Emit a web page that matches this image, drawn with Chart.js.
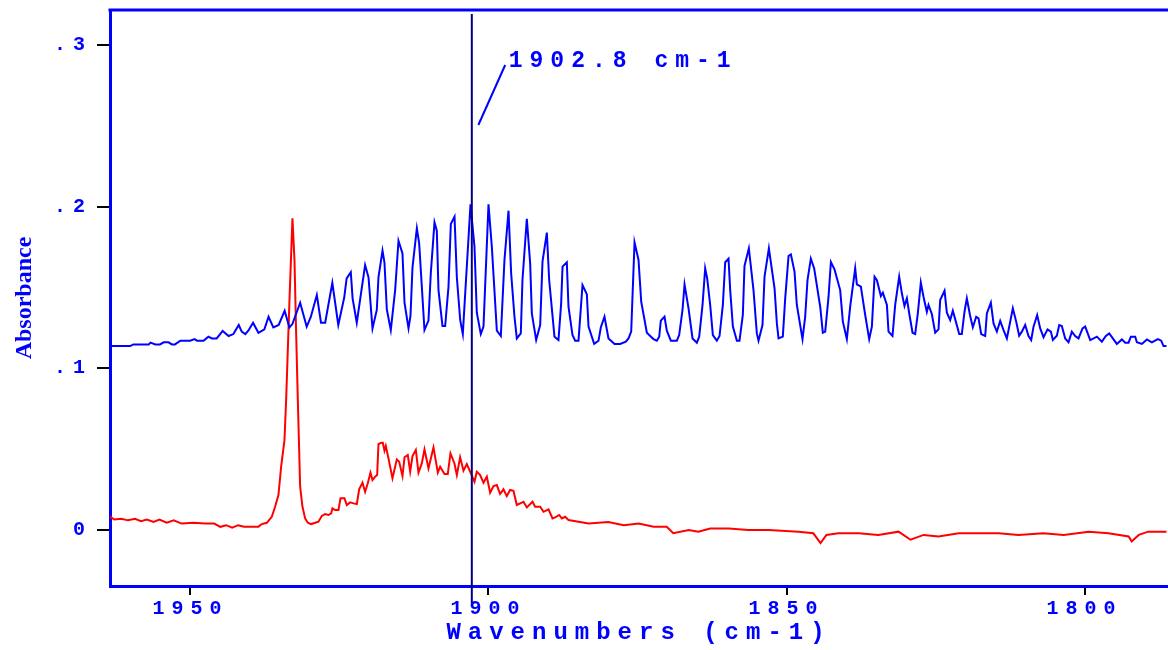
<!DOCTYPE html>
<html>
<head>
<meta charset="utf-8">
<script src="https://cdn.jsdelivr.net/npm/chart.js@4.4.0/dist/chart.umd.min.js"></script>
<style>
  html, body { margin: 0; padding: 0; background: #fff; }
</style>
</head>
<body>
<canvas id="spectrum" width="1168" height="650"></canvas>
<script>
// blue trace (wavenumber, absorbance)
var blueWn = [
  1963.76, 1960.1, 1959.6, 1957.0, 1956.7, 1955.9, 1955.1, 1954.5, 1953.7, 1953.1, 1952.6, 1951.7,
  1950.05, 1949.3, 1948.9, 1947.8, 1947.0, 1946.4, 1945.6, 1944.6, 1943.6, 1942.8, 1941.9, 1941.4,
  1940.8, 1940.3, 1939.5, 1938.6, 1937.6, 1936.9, 1936.1, 1935.2, 1934.2, 1933.4, 1932.9, 1931.6,
  1930.5, 1929.8, 1928.8, 1928.1, 1927.4, 1926.2, 1925.2, 1924.2, 1923.8, 1923.1, 1922.8, 1922.1,
  1920.7, 1920.13, 1919.46, 1918.74, 1918.46, 1917.78, 1917.45, 1917.06, 1916.39, 1915.66, 1915.10,
  1914.43, 1914.09, 1913.42, 1913.09, 1912.75, 1912.02, 1911.63, 1910.74, 1910.07, 1909.68, 1909.06,
  1908.67, 1908.39, 1907.72, 1907.27, 1906.71, 1906.32, 1905.70, 1905.31, 1904.75, 1904.31, 1903.02,
  1902.35, 1901.96, 1901.29, 1900.84, 1900.00, 1899.44, 1898.60, 1897.93, 1897.32, 1896.64, 1896.20,
  1895.64, 1895.25, 1894.58, 1894.30, 1893.57, 1893.01, 1892.73, 1892.00, 1891.33, 1890.94, 1890.21,
  1889.82, 1888.93, 1888.26, 1887.81, 1887.58, 1886.86, 1886.58, 1885.91, 1885.46, 1884.90, 1884.23,
  1883.50, 1883.22, 1882.27, 1881.54, 1881.15, 1880.54, 1879.87, 1878.86, 1877.91, 1876.96, 1876.51,
  1876.06, 1875.50, 1874.83, 1874.38, 1873.43, 1872.87, 1872.32, 1871.76, 1871.36, 1871.09, 1870.47,
  1870.08, 1869.41, 1868.40, 1868.01, 1867.45, 1867.11, 1866.44, 1865.77, 1865.04, 1864.65, 1864.09,
  1863.65, 1863.31, 1862.81, 1862.36, 1861.69, 1861.24, 1860.68, 1860.29, 1859.73, 1859.45, 1859.00,
  1858.33, 1857.89, 1857.33, 1857.05, 1856.32, 1855.54, 1854.98, 1854.70, 1854.03, 1853.69, 1852.96,
  1852.01, 1851.62, 1851.34, 1850.62, 1850.22, 1849.66, 1849.27, 1848.66, 1848.27, 1847.32, 1846.87,
  1846.48, 1845.92, 1845.36, 1844.35, 1843.91, 1843.51, 1842.95, 1842.56, 1841.95, 1841.00, 1840.55,
  1839.88, 1839.32, 1838.48, 1838.20, 1837.53, 1836.80, 1836.13, 1835.68, 1835.23, 1834.84, 1834.17,
  1833.84, 1833.16, 1832.89, 1832.22, 1831.77, 1831.10, 1830.65, 1830.21, 1829.81, 1829.37, 1828.86,
  1828.42, 1827.97, 1827.47, 1827.02, 1826.46, 1826.18, 1825.62, 1825.06, 1824.50, 1824.22, 1823.49,
  1823.10, 1822.54, 1822.10, 1821.59, 1821.03, 1820.59, 1820.14, 1819.75, 1819.19, 1818.74, 1818.18,
  1817.79, 1817.34, 1816.67, 1816.39, 1815.72, 1815.27, 1814.71, 1814.15, 1813.59, 1813.03, 1812.03,
  1811.47, 1810.97, 1810.52, 1809.96, 1809.40, 1808.95, 1808.56, 1807.95, 1807.44, 1806.88, 1806.21,
  1805.65, 1805.32, 1804.65, 1804.25, 1803.81, 1803.25, 1802.69, 1802.13, 1801.57, 1801.01, 1800.34,
  1799.89, 1799.05, 1797.93, 1797.10, 1796.42, 1795.86, 1794.58, 1793.74, 1793.18, 1792.62, 1792.23,
  1791.50, 1791.22, 1790.38, 1789.54, 1788.71, 1787.70, 1787.14, 1786.75, 1786.25
];
var blueAbs = [
  0.1138, 0.1138, 0.1148, 0.1148, 0.1159, 0.1148, 0.1148, 0.1161, 0.1161, 0.1148, 0.1148, 0.1171,
  0.1171, 0.1181, 0.1171, 0.1171, 0.1196, 0.1185, 0.1185, 0.1231, 0.1200, 0.1212, 0.1268, 0.1227,
  0.1212, 0.1233, 0.1282, 0.1220, 0.1241, 0.1319, 0.1253, 0.1268, 0.1356, 0.1253, 0.1274, 0.1406,
  0.1257, 0.1319, 0.1453, 0.1282, 0.1282, 0.1529, 0.1268, 0.1439, 0.1556, 0.1594, 0.1433, 0.1282,
  0.1639, 0.1563, 0.1247, 0.1361, 0.1563, 0.1728, 0.1653, 0.1365, 0.1237, 0.1484, 0.1789,
  0.1711, 0.1406, 0.1247, 0.1324, 0.1625, 0.1866, 0.1773, 0.1237, 0.1295, 0.1588, 0.1903,
  0.1851, 0.1484, 0.1262, 0.1262, 0.1505, 0.1893, 0.1938, 0.1563, 0.1299, 0.1212, 0.2014,
  0.1752, 0.1344, 0.1212, 0.1258, 0.2014, 0.1752, 0.1233, 0.1200, 0.1670, 0.1975, 0.1588,
  0.1319, 0.1185, 0.1216, 0.1546, 0.1925, 0.1649, 0.1340, 0.1175, 0.1268, 0.1660, 0.1839,
  0.1546, 0.1196, 0.1175, 0.1402, 0.1629, 0.1656, 0.1381, 0.1206, 0.1171, 0.1171, 0.1515,
  0.1458, 0.1258, 0.1151, 0.1171, 0.1254, 0.1319, 0.1185, 0.1151, 0.1151, 0.1165, 0.1185,
  0.1227, 0.1779, 0.1670, 0.1412, 0.1220, 0.1200, 0.1181, 0.1171, 0.1196, 0.1295, 0.1319,
  0.1233, 0.1171, 0.1171, 0.1206, 0.1361, 0.1519, 0.1371, 0.1185, 0.1159, 0.1196, 0.1392,
  0.1618, 0.1556, 0.1392, 0.1206, 0.1171, 0.1200, 0.1392, 0.1656, 0.1678, 0.1484, 0.1258,
  0.1171, 0.1171, 0.1330, 0.1633, 0.1742, 0.1484, 0.1216, 0.1171, 0.1268, 0.1567, 0.1742,
  0.1495, 0.1278, 0.1185, 0.1196, 0.1433, 0.1695, 0.1705, 0.1598, 0.1392, 0.1181, 0.1319,
  0.1546, 0.1678, 0.1618, 0.1381, 0.1220, 0.1227, 0.1443, 0.1658, 0.1612, 0.1484, 0.1289,
  0.1181, 0.1381, 0.1618, 0.1519, 0.1505, 0.1330, 0.1181, 0.1258, 0.1567, 0.1546, 0.1447,
  0.1468, 0.1392, 0.1227, 0.1200, 0.1392, 0.1567, 0.1464, 0.1385, 0.1433, 0.1330, 0.1220,
  0.1212, 0.1340, 0.1530, 0.1443, 0.1350, 0.1392, 0.1336, 0.1220, 0.1241, 0.1422, 0.1480,
  0.1344, 0.1299, 0.1357, 0.1289, 0.1212, 0.1212, 0.1350, 0.1433, 0.1324, 0.1254, 0.1319,
  0.1309, 0.1212, 0.1200, 0.1340, 0.1406, 0.1278, 0.1227, 0.1293, 0.1237, 0.1185, 0.1371,
  0.1289, 0.1202, 0.1227, 0.1268, 0.1200, 0.1175, 0.1258, 0.1330, 0.1247, 0.1192, 0.1241,
  0.1227, 0.1175, 0.1202, 0.1268, 0.1262, 0.1185, 0.1161, 0.1227, 0.1200, 0.1185, 0.1247,
  0.1258, 0.1175, 0.1196, 0.1165, 0.1200, 0.1216, 0.1151, 0.1179, 0.1159, 0.1159, 0.1196,
  0.1196, 0.1161, 0.1151, 0.1179, 0.1161, 0.1181, 0.1171, 0.1138, 0.1138
];

// red trace
var redWn = [
  1963.76, 1962.8, 1961.6, 1960.5, 1959.3, 1958.3, 1957.3, 1956.2, 1955.2, 1954.0, 1952.8, 1951.5,
  1949.5, 1947.5, 1946.0, 1945.0, 1944.0, 1943.0, 1942.0, 1941.0, 1940.27, 1938.59, 1938.03, 1937.19,
  1936.36, 1935.80, 1935.24, 1934.79, 1934.23, 1933.95, 1933.67, 1933.39, 1932.89, 1932.55, 1932.27,
  1931.99, 1931.60, 1931.21, 1930.76, 1930.31, 1929.76, 1929.08, 1928.53, 1927.97, 1927.41, 1926.85,
  1926.40, 1926.18, 1925.73, 1925.17, 1924.83, 1924.16, 1923.77, 1923.21, 1922.65, 1922.09, 1921.70,
  1921.14, 1920.70, 1920.25, 1919.80, 1919.46, 1919.02, 1918.68, 1918.46, 1918.01, 1917.73, 1917.45,
  1917.23, 1916.78, 1916.11, 1915.38, 1914.99, 1914.43, 1914.09, 1913.54, 1913.14, 1912.75, 1912.19,
  1911.75, 1911.19, 1910.74, 1910.07, 1909.23, 1908.50, 1908.11, 1907.38, 1906.83, 1906.38, 1905.71,
  1905.31, 1904.76, 1904.20, 1903.64, 1903.08, 1902.35, 1901.96, 1901.40, 1900.84, 1900.28, 1899.72,
  1899.16, 1898.60, 1898.05, 1897.49, 1896.93, 1896.37, 1895.81, 1895.25, 1894.69, 1894.13, 1893.57,
  1892.62, 1892.17, 1891.33, 1890.77, 1889.93, 1889.26, 1888.81, 1888.14, 1887.70, 1887.14, 1886.58,
  1883.2, 1879.9, 1877.3, 1874.8, 1872.3, 1870.1, 1869.0, 1866.4, 1864.8, 1862.8, 1859.7, 1856.4,
  1853.0, 1848.0, 1845.5, 1844.3, 1843.3, 1841.3, 1837.9, 1834.6, 1831.2, 1829.2, 1827.0, 1824.5,
  1821.1, 1816.9, 1814.4, 1811.1, 1806.9, 1803.5, 1799.3, 1796.0, 1792.6, 1792.1, 1790.9, 1789.3,
  1786.25
];
var redAbs = [
  0.0090, 0.0065, 0.0070, 0.0060, 0.0070, 0.0055, 0.0065, 0.0050, 0.0065, 0.0045, 0.0060, 0.0040,
  0.0045, 0.0040, 0.0040, 0.0020, 0.0030, 0.0015, 0.0030, 0.0020, 0.0021, 0.0021, 0.0037, 0.0045,
  0.0082, 0.0144, 0.0216, 0.0392, 0.0556, 0.0804, 0.1113, 0.1422, 0.1928, 0.1670, 0.1216,
  0.0804, 0.0268, 0.0144, 0.0072, 0.0045, 0.0037, 0.0045, 0.0052, 0.0087, 0.0099, 0.0093,
  0.0103, 0.0134, 0.0124, 0.0124, 0.0196, 0.0196, 0.0155, 0.0171, 0.0165, 0.0161, 0.0252,
  0.0293, 0.0237, 0.0289, 0.0355, 0.0309, 0.0330, 0.0340, 0.0532, 0.0540, 0.0540, 0.0491,
  0.0520, 0.0443, 0.0320, 0.0437, 0.0423, 0.0334, 0.0450, 0.0464, 0.0361, 0.0458, 0.0495,
  0.0355, 0.0412, 0.0499, 0.0381, 0.0511, 0.0355, 0.0392, 0.0347, 0.0347, 0.0474, 0.0412,
  0.0340, 0.0450, 0.0367, 0.0408, 0.0361, 0.0299, 0.0361, 0.0340, 0.0293, 0.0330, 0.0231,
  0.0272, 0.0278, 0.0223, 0.0252, 0.0210, 0.0248, 0.0243, 0.0155, 0.0165, 0.0175, 0.0140,
  0.0175, 0.0144, 0.0144, 0.0113, 0.0128, 0.0072, 0.0078, 0.0093, 0.0072, 0.0082, 0.0062,
  0.004, 0.005, 0.003, 0.004, 0.002, 0.002, -0.002, 0.000, -0.001, 0.001, 0.001, 0.000,
  0.000, -0.001, -0.002, -0.008, -0.003, -0.002, -0.002, -0.003, -0.001, -0.006, -0.003, -0.004,
  -0.002, -0.002, -0.002, -0.003, -0.002, -0.003, -0.001, -0.002, -0.004, -0.007, -0.003, -0.001,
  -0.001
];

var xTicks = [1950, 1900, 1850, 1800];
var yTicks = [0, 0.1, 0.2, 0.3];
var yTickLabels = ['0', '.1', '.2', '.3'];

var xMin = 1786.0, xMax = 1963.5;
var yMin = -0.0346, yMax = 0.3216;

// cursor marker and its label
var cursorWn = 1902.8;
var cursorLabel = '1902.8 cm-1';
var leaderStart = { x: 1901.7, y: 0.2505 };
var leaderEnd = { x: 1897.2, y: 0.2876 };
var labelAt = { x: 1896.6, y: 0.2900 };

function toPoints(xs, ys) {
    var pts = [];
    for (var i = 0; i < xs.length; i++) pts.push({ x: xs[i], y: ys[i] });
    return pts;
}

var BLUE = '#0000ff';
var monoBold = function(size) { return { family: 'Liberation Mono', size: size, weight: 'bold' }; };

var extras = {
    id: 'extras',
    beforeDraw: function(chart) {
        chart.ctx.letterSpacing = '7px';
    },
    afterDraw: function(chart) {
        var ctx = chart.ctx, area = chart.chartArea;
        var sx = chart.scales.x, sy = chart.scales.y;
        ctx.save();
        // top frame
        ctx.strokeStyle = BLUE;
        ctx.lineWidth = 3;
        ctx.beginPath();
        ctx.moveTo(area.left - 1.5, area.top);
        ctx.lineTo(area.right, area.top);
        ctx.stroke();

        // cursor line
        var cx = sx.getPixelForValue(cursorWn);
        ctx.strokeStyle = '#000080';
        ctx.lineWidth = 2;
        ctx.beginPath();
        ctx.moveTo(cx, area.top + 4);
        ctx.lineTo(cx, area.bottom + 17);
        ctx.stroke();

        // leader line + label
        ctx.strokeStyle = BLUE;
        ctx.beginPath();
        ctx.moveTo(sx.getPixelForValue(leaderStart.x), sy.getPixelForValue(leaderStart.y));
        ctx.lineTo(sx.getPixelForValue(leaderEnd.x), sy.getPixelForValue(leaderEnd.y));
        ctx.stroke();

        ctx.fillStyle = BLUE;
        ctx.font = 'bold 23px "Liberation Mono"';
        ctx.textAlign = 'left';
        ctx.textBaseline = 'middle';
        ctx.fillText(cursorLabel, sx.getPixelForValue(labelAt.x), sy.getPixelForValue(labelAt.y));

        // y axis title
        ctx.letterSpacing = '0px';
        ctx.translate(25, (area.top + area.bottom) / 2);
        ctx.rotate(-Math.PI / 2);
        ctx.font = 'bold 24px "Liberation Serif"';
        ctx.textAlign = 'center';
        ctx.fillText('Absorbance', 0, 0);
        ctx.restore();
        ctx.letterSpacing = '0px';
    }
};

var ctx = document.getElementById('spectrum').getContext('2d');
var chart = new Chart(ctx, {
    type: 'line',
    data: {
        datasets: [
            { label: 'blue', data: toPoints(blueWn, blueAbs), borderColor: BLUE, borderWidth: 2, pointRadius: 0, fill: false, tension: 0 },
            { label: 'red', data: toPoints(redWn, redAbs), borderColor: '#ff0000', borderWidth: 2, pointRadius: 0, fill: false, tension: 0 }
        ]
    },
    options: {
        responsive: false,
        animation: false,
        events: [],
        layout: { padding: { top: 10, right: 0, left: 0, bottom: 0 } },
        plugins: { legend: { display: false }, tooltip: { enabled: false } },
        scales: {
            x: {
                type: 'linear',
                reverse: true,
                min: xMin,
                max: xMax,
                afterFit: function(s) { s.height = 64; s.paddingLeft = 0; s.paddingRight = 0; },
                afterBuildTicks: function(s) { s.ticks = xTicks.map(function(v) { return { value: v }; }); },
                ticks: {
                    callback: function(v) { return String(v); },
                    color: BLUE,
                    font: monoBold(20),
                    padding: 2,
                    maxRotation: 0
                },
                grid: { drawOnChartArea: false, drawTicks: true, tickLength: 9, color: '#000', lineWidth: 2 },
                border: { display: true, color: BLUE, width: 3 },
                title: {
                    display: true,
                    text: 'Wavenumbers (cm-1)',
                    color: BLUE,
                    font: monoBold(24),
                    padding: { top: 0, bottom: 3 }
                }
            },
            y: {
                min: yMin,
                max: yMax,
                afterFit: function(s) { s.width = 110; s.paddingTop = 0; s.paddingBottom = 0; },
                afterBuildTicks: function(s) { s.ticks = yTicks.map(function(v) { return { value: v }; }); },
                ticks: {
                    callback: function(v, i) { return yTickLabels[i]; },
                    color: BLUE,
                    font: monoBold(20),
                    padding: 5
                },
                grid: { drawOnChartArea: false, drawTicks: true, tickLength: 13, color: '#000', lineWidth: 2 },
                border: { display: true, color: BLUE, width: 3 }
            }
        }
    },
    plugins: [extras]
});
</script>
</body>
</html>
